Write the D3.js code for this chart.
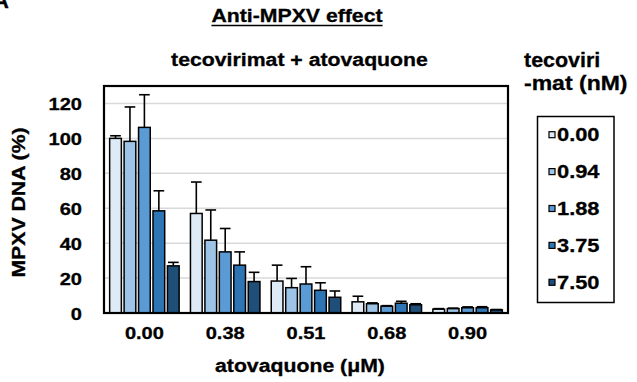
<!DOCTYPE html>
<html>
<head>
<meta charset="utf-8">
<script src="https://cdn.jsdelivr.net/npm/d3@7/dist/d3.min.js"></script>
<style>
  html, body { margin: 0; padding: 0; background: #fff; }
  svg { display: block; }
  text { font-family: "Liberation Sans", Arial, sans-serif; font-weight: bold; fill: #000; stroke: #000; stroke-width: 0.3px; }
</style>
</head>
<body>
<svg id="chart" width="637" height="382"></svg>
<script>
// ---- data ----
const groups = ["0.00", "0.38", "0.51", "0.68", "0.90"];           // atovaquone (µM)
const series = ["0.00", "0.94", "1.88", "3.75", "7.50"];           // tecovirimat (nM)
const colors = ["#deebf7", "#9dc3e6", "#5b9bd5", "#2e75b6", "#1f4e79"];
// mean values: rows = atovaquone groups, columns = tecovirimat series
const means = [
  [100, 98.3, 106.3, 58.5, 27],
  [57, 41.7, 35, 27.4, 18],
  [18.3, 14.5, 16.6, 13, 9],
  [6.4, 5.3, 3.9, 5.6, 4.7],
  [2.2, 2.5, 3, 3, 1.8]
];
const errors = [
  [1.5, 19.7, 18.7, 11.5, 2],
  [18, 17.3, 13.4, 7.6, 5.3],
  [9.1, 5.3, 9.9, 4.3, 3.6],
  [3.2, 0.5, 0.3, 1.1, 0.6],
  [0.3, 0.3, 0.5, 0.6, 0.2]
];
const yTicks = [0, 20, 40, 60, 80, 100, 120];

(function () {
const svg = d3.select("#chart");
const K = 1.18; // horizontal glyph stretch of the reference font
function stretch(sel, k) {
  sel.each(function () {
    const l = this.getComputedTextLength();
    this.setAttribute("textLength", l * k);
    this.setAttribute("lengthAdjust", "spacingAndGlyphs");
  });
}

const pL = 104, pR = 508, pT = 86, pB = 313;
const x0 = d3.scaleBand().domain(groups).range([pL, pR]).paddingInner(0.14).paddingOuter(0.07);
const x1 = d3.scaleBand().domain(series).range([0, x0.bandwidth()]).paddingInner(0.19).paddingOuter(0);
const y = d3.scaleLinear().domain([0, 130]).range([pB, pT]);

// corner panel letter (cut off at the page edge, as in the reference)
svg.append("text").attr("x", -7).attr("y", 8).style("font-size", "22px").text("A");

// gridlines
svg.append("g").selectAll("line").data(yTicks.filter(d => d > 0)).join("line")
  .attr("x1", pL).attr("x2", pR)
  .attr("y1", d => y(d)).attr("y2", d => y(d))
  .attr("stroke", "#d9d9d9").attr("stroke-width", 1.5);

// bars
const rows = groups.map((g, gi) => series.map((s, si) => ({ g, s, si, v: means[gi][si], e: errors[gi][si] })));
const gGroups = svg.append("g").selectAll("g").data(rows).join("g")
  .attr("transform", (d, i) => `translate(${x0(groups[i])},0)`);
gGroups.selectAll("rect").data(d => d).join("rect")
  .attr("x", d => x1(d.s)).attr("width", x1.bandwidth())
  .attr("y", d => y(d.v)).attr("height", d => y(0) - y(d.v))
  .attr("fill", d => colors[d.si]).attr("stroke", "#000").attr("stroke-width", 1.5);

// error bars (upper only)
const eb = gGroups.selectAll("g.eb").data(d => d).join("g").attr("class", "eb")
  .attr("stroke", "#000").attr("stroke-width", 1.6);
eb.append("line")
  .attr("x1", d => x1(d.s) + x1.bandwidth() / 2).attr("x2", d => x1(d.s) + x1.bandwidth() / 2)
  .attr("y1", d => y(d.v)).attr("y2", d => y(d.v + d.e));
eb.append("line")
  .attr("x1", d => x1(d.s) + 0.5).attr("x2", d => x1(d.s) + x1.bandwidth() - 0.5)
  .attr("y1", d => y(d.v + d.e)).attr("y2", d => y(d.v + d.e));

// frame
svg.append("rect").attr("x", pL).attr("y", pT).attr("width", pR - pL).attr("height", pB - pT)
  .attr("fill", "none").attr("stroke", "#000").attr("stroke-width", 2.2);

// y axis
const ya = svg.append("g").attr("transform", `translate(${pL},0)`)
  .call(d3.axisLeft(y).tickValues(yTicks).tickSize(0).tickPadding(22));
ya.select(".domain").remove();
ya.selectAll("text").attr("font-family", null).attr("font-size", null).attr("fill", null).style("font-size", "17px").attr("dy", "0.36em");
stretch(ya.selectAll("text"), K);

// x axis
const xa = svg.append("g").attr("transform", `translate(0,${pB})`)
  .call(d3.axisBottom(x0).tickSize(0).tickPadding(14));
xa.select(".domain").remove();
xa.selectAll("text").attr("font-family", null).attr("font-size", null).attr("fill", null).style("font-size", "17px");
stretch(xa.selectAll("text"), K);

// titles
const t1 = svg.append("text").attr("x", 297).attr("y", 22).attr("text-anchor", "middle")
  .style("font-size", "18px").text("Anti-MPXV effect");
stretch(t1, K);
const bb = t1.node().getBBox();
svg.append("line").attr("x1", bb.x).attr("x2", bb.x + bb.width).attr("y1", 25.5).attr("y2", 25.5)
  .attr("stroke", "#000").attr("stroke-width", 1.6);

stretch(svg.append("text").attr("x", 299.5).attr("y", 66).attr("text-anchor", "middle")
  .style("font-size", "18px").text("tecovirimat + atovaquone"), K);

stretch(svg.append("text").attr("x", 300).attr("y", 372).attr("text-anchor", "middle")
  .style("font-size", "18px").text("atovaquone (μM)"), K);

stretch(svg.append("text").attr("transform", "translate(25,202.5) rotate(-90)").attr("text-anchor", "middle")
  .style("font-size", "18px").text("MPXV DNA (%)"), K);

// legend
stretch(svg.append("text").attr("x", 524).attr("y", 66.5).style("font-size", "19.5px").text("tecoviri"), 1.1);
stretch(svg.append("text").attr("x", 524).attr("y", 89.5).style("font-size", "19.5px").text("-mat (nM)"), K);
svg.append("rect").attr("x", 537.5).attr("y", 116.5).attr("width", 76.5).attr("height", 186)
  .attr("fill", "#fff").attr("stroke", "#000").attr("stroke-width", 1.5);
const ly = d3.scalePoint().domain(series).range([134.7, 282.3]);
const li = svg.append("g").selectAll("g").data(series).join("g")
  .attr("transform", d => `translate(0,${ly(d)})`);
li.append("rect").attr("x", 549).attr("y", -3).attr("width", 6).attr("height", 6)
  .attr("fill", (d, i) => colors[i]).attr("stroke", "#000").attr("stroke-width", 1.2);
stretch(li.append("text").attr("x", 557).attr("y", 6.6).style("font-size", "18.5px").text(d => d), K);
})();
</script>
</body>
</html>
